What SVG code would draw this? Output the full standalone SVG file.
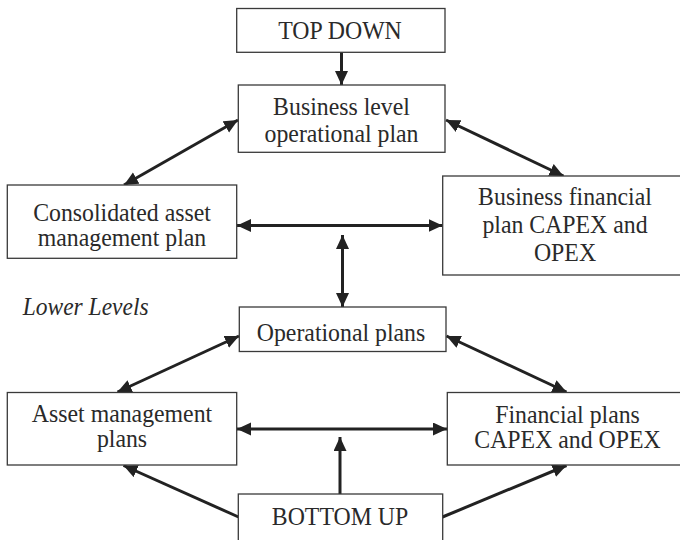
<svg xmlns="http://www.w3.org/2000/svg" width="680" height="540" viewBox="0 0 680 540">
<style>
.box{fill:#fff;stroke:#3a3a3a;stroke-width:1.3}
.t{font-family:"Liberation Serif","Times New Roman",serif;font-size:23.8px;fill:#2a2a2a;text-anchor:middle}
.it{font-family:"Liberation Serif","Times New Roman",serif;font-size:23.5px;fill:#2a2a2a;font-style:italic}
.c{stroke:#222;stroke-width:3;fill:none}
</style>
<defs>
<marker id="ah" markerUnits="userSpaceOnUse" markerWidth="16" markerHeight="14" refX="14" refY="6.5" orient="auto-start-reverse" viewBox="0 0 16 14">
<path d="M0,0 L14,6.5 L0,13 Z" fill="#222"/>
</marker>
</defs>
<rect width="680" height="540" fill="#fff"/>
<g id="connectors">
<line class="c" x1="341.5" y1="52" x2="341.5" y2="85" marker-end="url(#ah)"/>
<line class="c" x1="124" y1="185" x2="238" y2="120" marker-start="url(#ah)" marker-end="url(#ah)"/>
<line class="c" x1="446" y1="120" x2="563.5" y2="176" marker-start="url(#ah)" marker-end="url(#ah)"/>
<line class="c" x1="237" y1="225.5" x2="442.5" y2="225.5" marker-start="url(#ah)" marker-end="url(#ah)"/>
<line class="c" x1="342.5" y1="235" x2="342.5" y2="307" marker-start="url(#ah)" marker-end="url(#ah)"/>
<line class="c" x1="117.5" y1="392" x2="239" y2="336" marker-start="url(#ah)" marker-end="url(#ah)"/>
<line class="c" x1="446.5" y1="336" x2="566.5" y2="392" marker-start="url(#ah)" marker-end="url(#ah)"/>
<line class="c" x1="237" y1="429" x2="447" y2="429" marker-start="url(#ah)" marker-end="url(#ah)"/>
<line class="c" x1="340" y1="494" x2="340" y2="437" marker-end="url(#ah)"/>
<line class="c" x1="238.5" y1="517" x2="123.5" y2="465.5" marker-end="url(#ah)"/>
<line class="c" x1="442.5" y1="517" x2="566.5" y2="465.5" marker-end="url(#ah)"/>
</g>
<g id="top-down">
<rect class="box" x="236.7" y="8.5" width="208.3" height="43.8"/>
<text class="t" transform="translate(340,39) scale(1,1.05)">TOP DOWN</text>
</g>
<g id="business-level">
<rect class="box" x="238.3" y="85" width="206.7" height="67.3"/>
<text class="t" transform="translate(341.5,115) scale(1,1.05)">Business level</text>
<text class="t" transform="translate(341.5,141.5) scale(1,1.05)">operational plan</text>
</g>
<g id="consolidated">
<rect class="box" x="7.3" y="185" width="229.4" height="73.3"/>
<text class="t" transform="translate(122,220.5) scale(1,1.05)">Consolidated asset</text>
<text class="t" transform="translate(122,245.5) scale(1,1.05)">management plan</text>
</g>
<g id="business-financial">
<rect class="box" x="442.7" y="176" width="245" height="99"/>
<text class="t" transform="translate(565,205) scale(1,1.05)">Business financial</text>
<text class="t" transform="translate(565,233) scale(1,1.05)">plan CAPEX and</text>
<text class="t" transform="translate(565,261) scale(1,1.05)">OPEX</text>
</g>
<g id="lower-levels">
<text class="it" transform="translate(22.7,315) scale(1,1.05)">Lower Levels</text>
</g>
<g id="operational">
<rect class="box" x="239.3" y="307" width="206.7" height="44.5"/>
<text class="t" transform="translate(341,341) scale(1,1.05)">Operational plans</text>
</g>
<g id="asset-management">
<rect class="box" x="7.3" y="392.5" width="229.4" height="72.5"/>
<text class="t" transform="translate(122,421.5) scale(1,1.05)">Asset management</text>
<text class="t" transform="translate(122,447) scale(1,1.05)">plans</text>
</g>
<g id="financial">
<rect class="box" x="447.3" y="392.5" width="240" height="72.5"/>
<text class="t" transform="translate(567.5,422.5) scale(1,1.05)">Financial plans</text>
<text class="t" transform="translate(567.5,448) scale(1,1.05)">CAPEX and OPEX</text>
</g>
<g id="bottom-up">
<rect class="box" x="238.3" y="494" width="204.4" height="60"/>
<text class="t" transform="translate(340,525) scale(1,1.05)">BOTTOM UP</text>
</g>
</svg>
